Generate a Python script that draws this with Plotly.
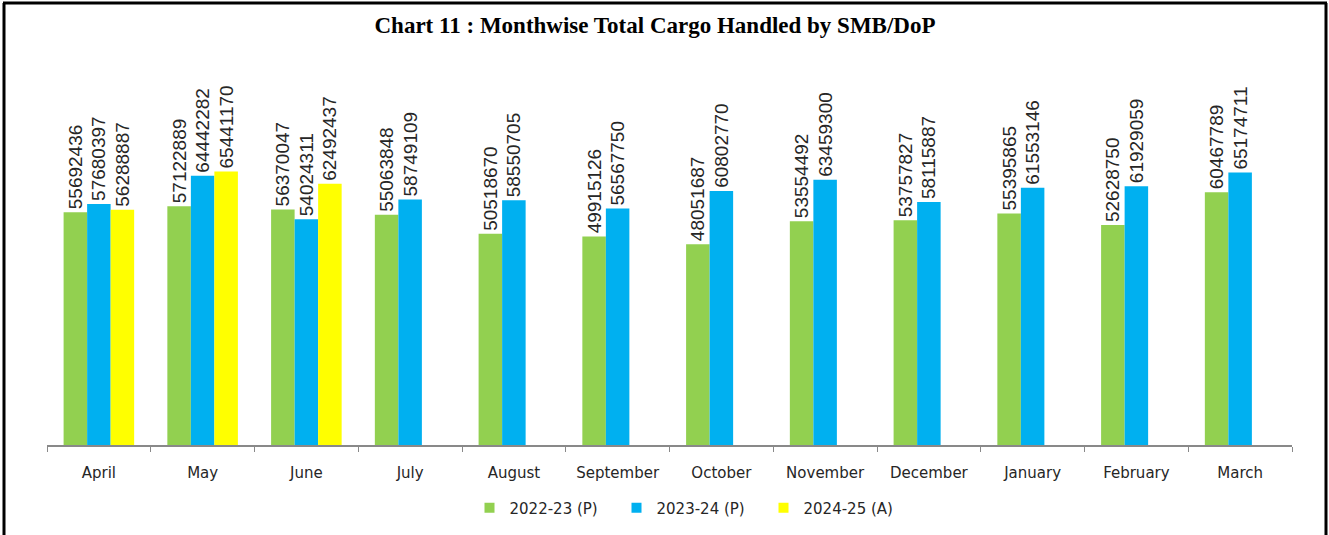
import plotly.graph_objects as go

months = ["April", "May", "June", "July", "August", "September", "October",
          "November", "December", "January", "February", "March"]
s2223 = [55692436, 57122889, 56370047, 55063848, 50518670, 49915126, 48051687,
         53554492, 53757827, 55395865, 52628750, 60467789]
s2324 = [57680397, 64442282, 54024311, 58749109, 58550705, 56567750, 60802770,
         63459300, 58115887, 61553146, 61929059, 65174711]
s2425 = [56288887, 65441170, 62492437, None, None, None, None,
         None, None, None, None, None]

names = ["2022-23 (P)", "2023-24 (P)", "2024-25 (A)"]
colors = ["#92D050", "#00B0F0", "#FFFF00"]

fig = go.Figure()
for name, vals, col in zip(names, [s2223, s2324, s2425], colors):
    fig.add_trace(go.Bar(
        x=months, y=vals, name=name, marker=dict(color=col, line=dict(width=0)),
        text=[f"{v}" if v is not None else "" for v in vals],
        textposition="outside", textangle=-90, cliponaxis=False,
        constraintext="none", showlegend=False,
        textfont=dict(family="Liberation Sans", size=19, color="#262626"),
    ))
# legend entries with small square symbols
for name, col in zip(names, colors):
    fig.add_trace(go.Scatter(
        x=[None], y=[None], mode="markers", name=name,
        marker=dict(symbol="square", size=10, color=col),
    ))

L, R, T, B = 47, 37, 50, 89
W, H = 1329, 535
pw, ph = W - L - R, H - T - B
def px(x): return (x - L) / pw
def py(y): return (H - B - y) / ph

shapes = [
    dict(type="line", xref="paper", yref="paper", x0=px(4), x1=px(4), y0=py(3), y1=py(540),
         line=dict(color="black", width=3)),
    dict(type="line", xref="paper", yref="paper", x0=px(3), x1=px(1327), y0=py(3), y1=py(3),
         line=dict(color="black", width=3)),
    dict(type="line", xref="paper", yref="paper", x0=px(1326), x1=px(1326), y0=py(3), y1=py(540),
         line=dict(color="black", width=3)),
]

fig.update_layout(
    width=W, height=H,
    margin=dict(l=L, r=R, t=T, b=B),
    paper_bgcolor="white", plot_bgcolor="white",
    barmode="group", bargap=0.32, bargroupgap=0,
    title=dict(text="<b>Chart 11 : Monthwise Total Cargo Handled by SMB/DoP</b>",
               x=px(655), xanchor="center", xref="paper", y=1 - 25 / H, yanchor="middle",
               font=dict(family="Liberation Serif", size=23, color="black")),
    xaxis=dict(showline=True, linecolor="#898989", linewidth=1.5, ticks="outside",
               tickson="boundaries", ticklen=5, tickcolor="#898989",
               ticklabelstandoff=13,
               tickfont=dict(family="DejaVu Sans", size=15, color="#262626"),
               showgrid=False),
    yaxis=dict(range=[0, ph / 4.19e-6], visible=False, showgrid=False, zeroline=False),
    legend=dict(orientation="h", x=px(690), xanchor="center", y=py(508), yanchor="middle",
                font=dict(family="DejaVu Sans", size=15, color="#262626"),
                entrywidth=102, itemwidth=30),
    shapes=shapes,
    showlegend=True,
)

fig.write_html("out.html", post_script="document.body.style.margin='0';",
               config={"displayModeBar": False})
